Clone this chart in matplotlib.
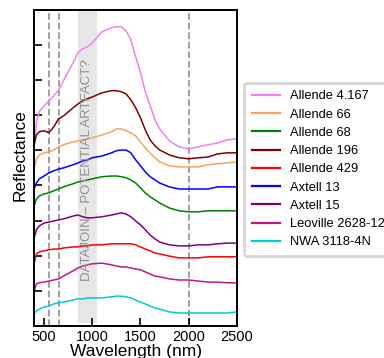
"""Reflectance spectra of carbonaceous chondrites (offset for clarity)."""

import matplotlib
matplotlib.use("Agg")
import matplotlib.pyplot as plt
import numpy as np

plt.rcParams["font.family"] = ["Liberation Sans", "DejaVu Sans"]

# wavelength grid (nm)
wavelength = [400, 420, 450, 500, 550, 600, 650, 700, 800, 850, 900, 950, 1000,
              1100, 1200, 1250, 1300, 1350, 1400, 1450, 1500, 1550, 1600, 1650,
              1700, 1800, 1900, 2000, 2100, 2200, 2300, 2400, 2500]

# offset reflectance, one array per sample
allende_4167 = [5.15, 5.80, 6.10, 6.27, 6.41, 6.55, 6.72, 6.98, 7.49, 7.78, 7.89,
                7.95, 8.06, 8.38, 8.49, 8.52, 8.52, 8.40, 8.15, 7.66, 7.21, 6.67,
                6.27, 5.87, 5.61, 5.27, 5.10, 5.04, 5.10, 5.16, 5.21, 5.30, 5.33]
allende_66 = [4.53, 4.76, 4.87, 4.93, 4.96, 5.01, 5.10, 5.16, 5.24, 5.27, 5.30,
              5.33, 5.36, 5.44, 5.53, 5.61, 5.61, 5.56, 5.50, 5.41, 5.24, 5.07,
              4.93, 4.79, 4.67, 4.56, 4.53, 4.53, 4.53, 4.59, 4.62, 4.64, 4.67]
allende_68 = [3.45, 3.62, 3.70, 3.76, 3.79, 3.85, 3.90, 3.96, 4.05, 4.10, 4.13,
              4.16, 4.19, 4.25, 4.27, 4.27, 4.25, 4.22, 4.16, 4.07, 3.93, 3.79,
              3.68, 3.59, 3.50, 3.36, 3.28, 3.25, 3.25, 3.28, 3.28, 3.28, 3.28]
allende_196 = [5.21, 5.44, 5.53, 5.56, 5.50, 5.67, 5.90, 5.98, 6.21, 6.32, 6.41,
               6.47, 6.52, 6.64, 6.70, 6.70, 6.67, 6.61, 6.44, 6.21, 5.93, 5.58,
               5.30, 5.13, 5.01, 4.87, 4.79, 4.76, 4.79, 4.81, 4.90, 4.93, 4.93]
allende_429 = [1.82, 2.05, 2.11, 2.14, 2.17, 2.19, 2.19, 2.22, 2.25, 2.25, 2.28,
               2.28, 2.31, 2.31, 2.34, 2.34, 2.34, 2.34, 2.34, 2.31, 2.25, 2.19,
               2.14, 2.08, 2.05, 1.99, 1.94, 1.94, 1.94, 1.97, 1.97, 1.97, 1.97]
axtell_13 = [3.93, 4.07, 4.19, 4.27, 4.36, 4.42, 4.47, 4.50, 4.59, 4.64, 4.70,
             4.73, 4.79, 4.84, 4.93, 4.99, 5.01, 5.01, 4.93, 4.73, 4.56, 4.39,
             4.25, 4.16, 4.07, 3.96, 3.90, 3.90, 3.90, 3.90, 3.96, 3.96, 3.96]
axtell_15 = [2.54, 2.74, 2.85, 2.93, 2.96, 2.99, 3.02, 3.05, 3.13, 3.16, 3.11,
             3.08, 3.08, 3.11, 3.16, 3.19, 3.22, 3.19, 3.11, 2.99, 2.88, 2.74,
             2.59, 2.48, 2.39, 2.31, 2.28, 2.28, 2.31, 2.31, 2.34, 2.36, 2.36]
leoville = [1.03, 1.20, 1.23, 1.25, 1.28, 1.31, 1.34, 1.42, 1.57, 1.65, 1.71,
            1.74, 1.77, 1.79, 1.74, 1.71, 1.68, 1.68, 1.65, 1.62, 1.60, 1.54,
            1.48, 1.42, 1.40, 1.34, 1.31, 1.31, 1.28, 1.25, 1.25, 1.23, 1.23]
nwa_3118 = [0.37, 0.43, 0.48, 0.54, 0.57, 0.63, 0.66, 0.68, 0.74, 0.77, 0.77,
            0.80, 0.80, 0.80, 0.83, 0.85, 0.85, 0.83, 0.80, 0.74, 0.68, 0.63,
            0.57, 0.51, 0.48, 0.40, 0.37, 0.37, 0.37, 0.37, 0.37, 0.37, 0.40]

labels = ["Allende 4.167", "Allende 66", "Allende 68", "Allende 196",
          "Allende 429", "Axtell 13", "Axtell 15", "Leoville 2628-12",
          "NWA 3118-4N"]
spectra = [allende_4167, allende_66, allende_68, allende_196, allende_429,
           axtell_13, axtell_15, leoville, nwa_3118]
colors = ["violet", "sandybrown", "green", "maroon", "red", "blue", "purple",
          "mediumvioletred", "darkturquoise"]

band_lines = [550, 650, 2000]
artifact_span = (850, 1050)

fig = plt.figure(figsize=(3.84, 3.58), dpi=100)
ax = fig.add_axes([0.0898, 0.0894, 0.527, 0.883])

ax.axvspan(*artifact_span, ymin=0.01, ymax=0.995, color="#e6e6e6", lw=0, zorder=0)
ax.text(np.mean(artifact_span), 4.44, "DATAJOIN \u2013 POTENTIAL ARTFACT?",
        rotation=90, ha="center", va="center", color="#8f8f8f", fontsize=9.5)
for wl in band_lines:
    ax.axvline(wl, color="#999999", ls="--", lw=1.3, zorder=1)

wl = np.array(wavelength)
for lab, spec, col in zip(labels, spectra, colors):
    ax.plot(wl, spec, color=col, lw=1.1, label=lab, zorder=2)

ax.set_xlim(400, 2500)
ax.set_ylim(0, 9)
ax.set_xticks([500, 1000, 1500, 2000, 2500])
ax.set_yticks(range(1, 9))
ax.set_yticklabels([])
ax.tick_params(direction="in", length=5.5, width=1.2, labelsize=10.5)
ax.tick_params(axis="x", pad=3)
for sp in ax.spines.values():
    sp.set_linewidth(1.4)

ax.set_xlabel("Wavelength (nm)", fontsize=12.5, labelpad=0)
ax.set_ylabel("Reflectance", fontsize=12.5)
ax.yaxis.set_label_coords(-0.035, 0.54)

leg = ax.legend(loc="upper left", bbox_to_anchor=(1.035, 0.77), borderaxespad=0,
                fontsize=9.3, handlelength=2.2, handletextpad=0.8,
                labelspacing=0.48, borderpad=0.6, fancybox=True)
leg.get_frame().set_edgecolor("#cccccc")
leg.get_frame().set_linewidth(2)
for line in leg.get_lines():
    line.set_linewidth(1.6)

fig.savefig("out.png", dpi=100)
